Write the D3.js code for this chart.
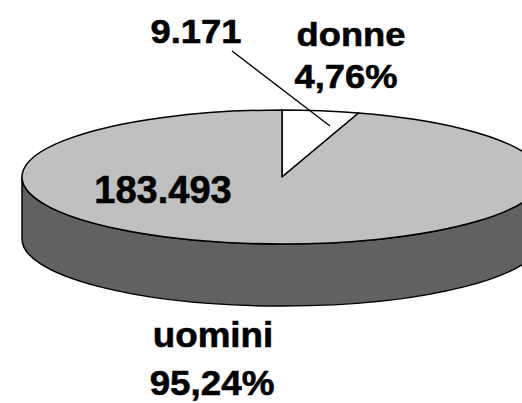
<!DOCTYPE html>
<html>
<head>
<meta charset="utf-8">
<script src="https://cdn.jsdelivr.net/npm/d3@7"></script>
<style>
  html, body { margin: 0; padding: 0; background: #fff; }
  svg { display: block; }
  text { font-family: "Liberation Sans", Arial, sans-serif; font-weight: bold; fill: #000; stroke: #000; stroke-width: 0.6; }
</style>
</head>
<body>
<svg id="plot" width="522" height="403"></svg>
<script>
const categories = ["donne", "uomini"]
const values = [9171, 183493]
const valueLabels = ["9.171", "183.493"]
const percentLabels = ["4,76%", "95,24%"]
const colors = ["#ffffff", "#c0c0c0"]

width = 522
height = 403

// ellipse of the pie top, and thickness of the side
cx = 282
cy = 177
rx = 260
ry = 67
depth = 62

pie = d3.pie().sort(null).value(d => d)
arcs = pie(values)

pt = a => [cx + rx * Math.sin(a), cy - ry * Math.cos(a)]

slicePath = d => {
    const p0 = pt(d.startAngle), p1 = pt(d.endAngle)
    const large = d.endAngle - d.startAngle > Math.PI ? 1 : 0
    return `M${cx},${cy}L${p0}A${rx},${ry} 0 ${large} 1 ${p1}Z`
}

const svg = d3.select("#plot");

// side wall (front half only)
svg.append("path")
    .attr("d", `M${cx - rx},${cy}L${cx - rx},${cy + depth}` +
        `A${rx},${ry} 0 0 0 ${cx + rx},${cy + depth}` +
        `L${cx + rx},${cy}A${rx},${ry} 0 0 1 ${cx - rx},${cy}Z`)
    .attr("fill", "#616161")
    .attr("stroke", "#000")
    .attr("stroke-width", 1.5)
    .attr("stroke-linejoin", "round");

svg.append("g")
    .selectAll("path")
    .data(arcs)
    .join("path")
    .attr("d", slicePath)
    .attr("fill", (d, i) => colors[i])
    .attr("stroke", "#000")
    .attr("stroke-width", 1.5)
    .attr("stroke-linejoin", "round");

// leader line for the small slice
svg.append("line")
    .attr("x1", 232).attr("y1", 51)
    .attr("x2", 330).attr("y2", 126)
    .attr("stroke", "#000")
    .attr("stroke-width", 1.3);

const lab = svg.append("g").attr("text-anchor", "middle").attr("font-size", 33);

// donne
lab.append("text").attr("transform", "translate(196,43) scale(1.1,1)").text(valueLabels[0]);
lab.append("text").attr("transform", "translate(351,46) scale(1.1,1)").text(categories[0]);
lab.append("text").attr("transform", "translate(346,88) scale(1.1,1)").text(percentLabels[0]);

// uomini
lab.append("text").attr("transform", "translate(163,203)").attr("font-size", 38).text(valueLabels[1]);
lab.append("text").attr("transform", "translate(213,347) scale(1.05,1)").attr("font-size", 35).text(categories[1]);
lab.append("text").attr("transform", "translate(212,395) scale(1.05,1)").attr("font-size", 35).text(percentLabels[1]);
</script>
</body>
</html>
